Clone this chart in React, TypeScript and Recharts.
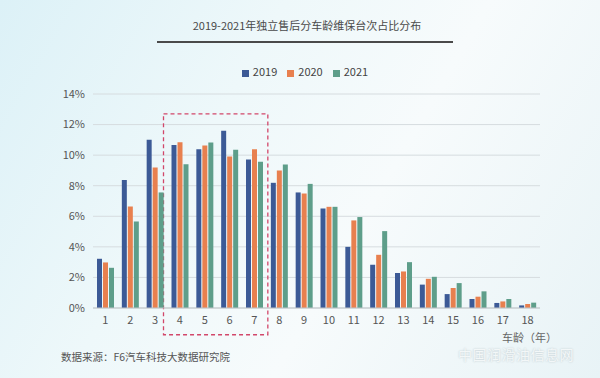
import React from 'react';
import {
  BarChart,
  Bar,
  XAxis,
  YAxis,
  CartesianGrid,
  Legend,
  ReferenceArea,
} from 'recharts';

// vehicle age, years
const ages = ['1', '2', '3', '4', '5', '6', '7', '8', '9', '10', '11', '12', '13', '14', '15', '16', '17', '18'];

// share of service visits, %
const share2019 = [3.22, 8.38, 11.0, 10.67, 10.39, 11.59, 9.71, 8.19, 7.56, 6.51, 4.0, 2.83, 2.29, 1.53, 0.91, 0.59, 0.33, 0.17];
const share2020 = [2.98, 6.64, 9.19, 10.85, 10.63, 9.91, 10.39, 8.99, 7.49, 6.62, 5.73, 3.48, 2.39, 1.91, 1.31, 0.74, 0.43, 0.26];
const share2021 = [2.63, 5.66, 7.56, 9.41, 10.82, 10.35, 9.56, 9.39, 8.12, 6.62, 5.95, 5.03, 3.0, 2.04, 1.63, 1.09, 0.59, 0.35];

const yTicks = [0, 2, 4, 6, 8, 10, 12, 14];

const data = ages.map((age, i) => ({
  age,
  y2019: share2019[i],
  y2020: share2020[i],
  y2021: share2021[i],
}));

const FONT = '"Noto Sans CJK SC", "Noto Sans", sans-serif';

// dashed highlight box around ages 4-7, nudged a little wider than the bands
const HighlightBox = (props: any) => {
  const { x, y, width, height } = props;
  return (
    <rect
      x={x - 4}
      y={y}
      width={width + 5}
      height={height}
      fill="none"
      stroke="#d2476a"
      strokeWidth={1.3}
      strokeDasharray="4 3"
    />
  );
};

export default function App() {
  return (
    <div
      style={{
        position: 'fixed',
        left: 0,
        top: 0,
        width: 600,
        height: 378,
        overflow: 'hidden',
        fontFamily: FONT,
        background:
          'linear-gradient(120deg, #dcf1f7 0%, #eef8fa 35%, #f7fbfc 60%, #e8f3f6 100%)',
      }}
    >
      <div
        style={{
          position: 'absolute',
          top: 17,
          left: 0,
          width: 614,
          textAlign: 'center',
          fontSize: 11,
          color: '#4a4a4a',
        }}
      >
        2019-2021年独立售后分车龄维保台次占比分布
      </div>
      <div
        style={{
          position: 'absolute',
          top: 41,
          left: 157,
          width: 296,
          height: 2,
          background: '#4a4a4a',
        }}
      />
      <BarChart
        width={600}
        height={378}
        data={data}
        margin={{ top: 78, right: 60, left: 53, bottom: 40 }}
        barSize={5}
        barGap={1}
      >
        <CartesianGrid vertical={false} stroke="#d6dcdf" />
        <XAxis
          dataKey="age"
          tickLine={false}
          axisLine={{ stroke: '#bfc5c8' }}
          tick={{ fontSize: 11, fill: '#555', fontFamily: FONT }}
          interval={0}
        />
        <YAxis
          width={40}
          domain={[0, 14]}
          ticks={yTicks}
          tickLine={false}
          axisLine={false}
          tickFormatter={(v) => `${v}%`}
          tick={{ fontSize: 11, fill: '#555', fontFamily: FONT }}
        />
        <Legend
          verticalAlign="top"
          iconType="square"
          iconSize={7}
          wrapperStyle={{ top: 63, left: 10, width: 600, fontSize: 11, fontFamily: FONT }}
          formatter={(value) => <span style={{ color: '#444' }}>{value}</span>}
        />
        <ReferenceArea
          x1="4"
          x2="7"
          y1={-1.75}
          y2={12.7}
          ifOverflow="visible"
          shape={<HighlightBox />}
        />
        <Bar dataKey="y2019" name="2019" fill="#3c5a96" isAnimationActive={false} />
        <Bar dataKey="y2020" name="2020" fill="#e8804f" isAnimationActive={false} />
        <Bar dataKey="y2021" name="2021" fill="#5e9e8a" isAnimationActive={false} />
      </BarChart>
      <div
        style={{
          position: 'absolute',
          left: 502,
          top: 329,
          fontSize: 11,
          color: '#666',
        }}
      >
        车龄（年）
      </div>
      <div
        style={{
          position: 'absolute',
          left: 458,
          top: 344,
          fontSize: 14,
          color: '#f3f7f8',
          textShadow: '0 0 2px #b8c4c8',
          letterSpacing: 0.5,
        }}
      >
        中国润滑油信息网
      </div>
      <div
        style={{
          position: 'absolute',
          left: 61,
          top: 349,
          fontSize: 10.5,
          color: '#555',
        }}
      >
        数据来源：F6汽车科技大数据研究院
      </div>
    </div>
  );
}
